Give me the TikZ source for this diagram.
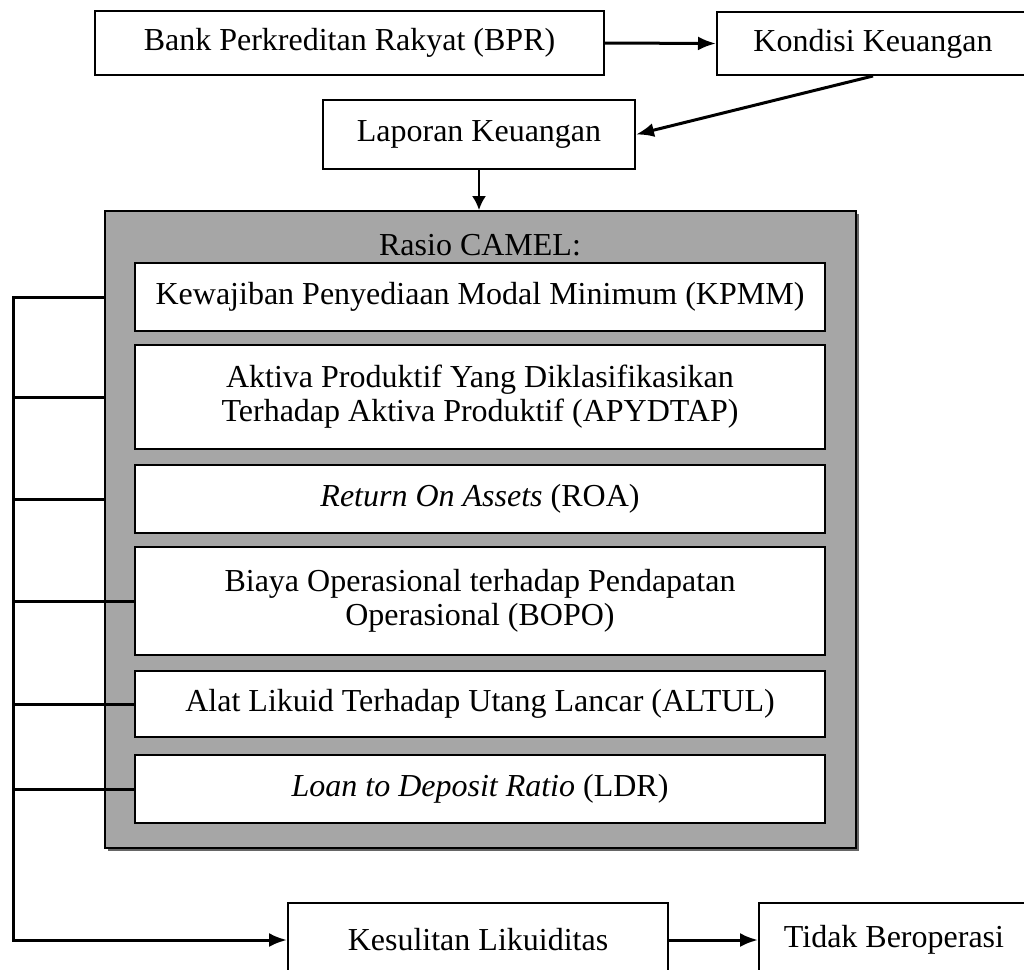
\documentclass[tikz,border=0pt]{standalone}
\usepackage{fontspec}
\setmainfont{Liberation Serif}
\usetikzlibrary{arrows.meta,shadows}
\tikzset{
	kotak/.style={draw,line width=1pt,fill=white,align=center,inner sep=0pt},
	isi/.style={kotak,minimum width=345pt},
	garis/.style={line width=1.5pt},
	panah/.style={line width=1.5pt,-{Latex[length=9pt,width=7pt]}}
}
\begin{document}
\begin{tikzpicture}[x=0.5pt,y=-0.5pt,every node/.style={font=\fontsize{16}{17}\selectfont}]
		\useasboundingbox (0,0) rectangle (1024,970);
		\clip (0,0) rectangle (1024,970);
		\node[kotak,minimum width=254.5pt,minimum height=32pt] (bpr) at (349.5,43) {Bank Perkreditan Rakyat (BPR)};
		\node[kotak,minimum width=156pt,minimum height=31.5pt] (kondisi) at (873,43.5) {Kondisi Keuangan};
		\node[kotak,minimum width=156pt,minimum height=34.5pt] (laporan) at (479,134.5) {Laporan Keuangan};
		\node[kotak,fill=gray!70,minimum width=375.5pt,minimum height=318.5pt,drop shadow={shadow xshift=1.5pt,shadow yshift=-1.5pt,fill=black!60,opacity=1}] (camel) at (480.5,529.5) {};
		\node (judul) at (480,245) {Rasio CAMEL:};
		\node[isi,minimum height=34pt] (kpmm) at (480,297) {Kewajiban Penyediaan Modal Minimum (KPMM)};
		\node[isi,minimum height=52pt] (apydtap) at (480,397) {Aktiva Produktif Yang Diklasifikasikan\\Terhadap Aktiva Produktif (APYDTAP)};
		\node[isi,minimum height=34pt] (roa) at (480,499) {\textit{Return On Assets} (ROA)};
		\node[isi,minimum height=54pt] (bopo) at (480,601) {Biaya Operasional terhadap Pendapatan\\Operasional (BOPO)};
		\node[isi,minimum height=33pt] (altul) at (480,704) {Alat Likuid Terhadap Utang Lancar (ALTUL)};
		\node[isi,minimum height=34pt] (ldr) at (480,789) {\textit{Loan to Deposit Ratio} (LDR)};
		\node[kotak,minimum width=190pt,minimum height=37pt] (kesulitan) at (478,940) {Kesulitan Likuiditas};
		\node[kotak,minimum width=135pt,minimum height=37pt] (tidak) at (894,940) {Tidak Beroperasi};
		\coordinate (sudut) at (13,940);
		\draw[panah] (bpr.east) -- (kondisi.west);
		\draw[panah] (kondisi.south) -- (laporan.east);
		\draw[panah,line width=1pt,-{Latex[length=7pt,width=7pt]}] (laporan.south) -- (laporan.south |- camel.north);
		\draw[panah] (kpmm.west -| camel.west) -| (sudut) -- (kesulitan.west);
		\foreach \baris in {apydtap,roa} \draw[garis] (\baris.west -| camel.west) -- (\baris.west -| sudut);
		\foreach \baris in {bopo,altul,ldr} \draw[garis] (\baris.west) -- (\baris.west -| sudut);
		\draw[panah] (kesulitan.east) -- (tidak.west);
	\end{tikzpicture}
\end{document}
